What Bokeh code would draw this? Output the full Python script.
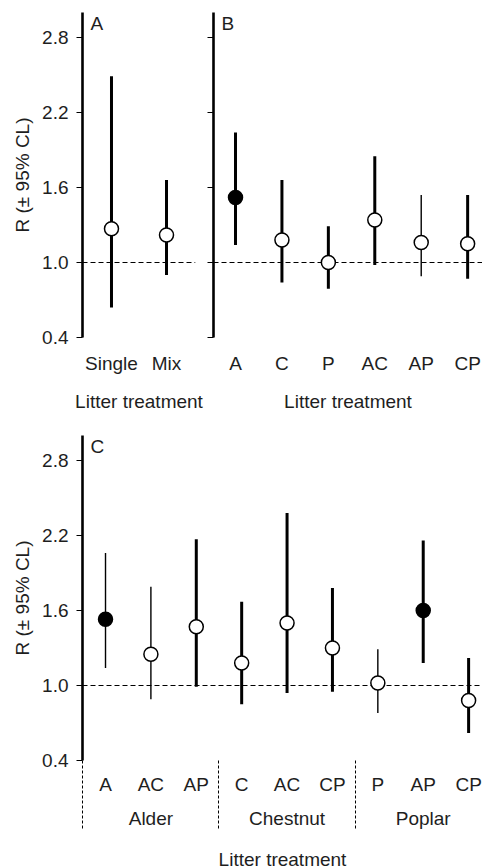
from bokeh.plotting import figure
from bokeh.models import (Range1d, FixedTicker, NumeralTickFormatter, Span, Label,
                          LinearAxis, CustomLabelingPolicy)
from bokeh.layouts import column, row
from bokeh.embed import file_html
from bokeh.resources import INLINE

# ---------------- data ----------------
y_ticks = [0.4, 1.0, 1.6, 2.2, 2.8]
y_label = "R (± 95% CL)"
x_label = "Litter treatment"
ref_value = 1.0

# Panel A
a_cats = ["Single", "Mix"]
a_mean = [1.27, 1.22]
a_lo = [0.64, 0.90]
a_hi = [2.49, 1.66]
a_sig = [False, False]

# Panel B
b_cats = ["A", "C", "P", "AC", "AP", "CP"]
b_mean = [1.52, 1.18, 1.00, 1.34, 1.16, 1.15]
b_lo = [1.14, 0.84, 0.79, 0.98, 0.89, 0.87]
b_hi = [2.04, 1.66, 1.29, 1.85, 1.54, 1.54]
b_sig = [True, False, False, False, False, False]

# Panel C
c_groups = ["Alder", "Alder", "Alder", "Chestnut", "Chestnut", "Chestnut", "Poplar", "Poplar", "Poplar"]
c_cats = ["A", "AC", "AP", "C", "AC", "CP", "P", "AP", "CP"]
c_mean = [1.53, 1.25, 1.47, 1.18, 1.50, 1.30, 1.02, 1.60, 0.88]
c_lo = [1.14, 0.89, 0.99, 0.85, 0.94, 0.95, 0.78, 1.18, 0.62]
c_hi = [2.06, 1.79, 2.17, 1.67, 2.38, 1.78, 1.29, 2.16, 1.22]
c_sig = [True, False, False, False, False, False, False, True, False]

# ---------------- styles ----------------
FONT = "Liberation Sans"
TXT = "#1e1e1e"
FS = "19px"
THICK, THIN = 3.0, 1.4
a_width = [THICK, THICK]
b_width = [THICK, THICK, THICK, THICK, THIN, THICK]
c_width = [THIN, THIN, THICK, THICK, THICK, THICK, THIN, THICK, THICK]


def make_panel(cats, mean, lo, hi, sig, widths, x_start, x_end, fw, ml, mr, mt, mb,
               letter, show_ylab, xlab=True):
    p = figure(frame_width=fw, frame_height=325,
               x_range=Range1d(x_start, x_end), y_range=Range1d(0.4, 3.0),
               output_backend="svg", toolbar_location=None,
               min_border_left=ml, min_border_right=mr,
               min_border_top=mt, min_border_bottom=mb)
    p.outline_line_color = None
    p.background_fill_color = "white"
    p.border_fill_color = "white"
    p.xgrid.visible = False
    p.ygrid.visible = False

    xs = list(range(len(cats)))
    span = Span(location=ref_value, dimension="width", line_color="black",
                line_width=1, line_dash="5 3", level="underlay")
    p.add_layout(span)

    p.segment(x0=xs, y0=lo, x1=xs, y1=hi, line_color="black", line_width=widths)
    fills = ["black" if s else "white" for s in sig]
    p.scatter(x=xs, y=mean, size=14, marker="circle", fill_color=fills,
              line_color="black", line_width=1.5)

    yax = p.yaxis[0]
    yax.ticker = FixedTicker(ticks=y_ticks, minor_ticks=[])
    yax.formatter = NumeralTickFormatter(format="0.0")
    yax.axis_line_width = 2.6
    yax.axis_line_color = "black"
    yax.major_tick_out = 6
    yax.major_tick_in = 0
    yax.major_tick_line_width = 1
    yax.minor_tick_out = 0
    yax.minor_tick_in = 0
    yax.major_label_text_font = FONT
    yax.major_label_text_color = TXT
    yax.major_label_text_font_size = FS
    if show_ylab:
        yax.major_label_standoff = 8
        yax.axis_label = y_label
        yax.axis_label_text_font = FONT
        yax.axis_label_text_font_size = FS
        yax.axis_label_text_font_style = "normal"
        yax.axis_label_text_color = TXT
        yax.axis_label_standoff = 6
    else:
        # tick marks only, no tick labels
        yax.major_label_overrides = {t: "" for t in y_ticks}
        yax.major_label_policy = CustomLabelingPolicy(
            code="for (const i of indices) indices.unset(i)")
        yax.major_label_standoff = 0

    xax = p.xaxis[0]
    xax.ticker = FixedTicker(ticks=xs, minor_ticks=[])
    xax.major_label_overrides = {i: c for i, c in enumerate(cats)}
    xax.axis_line_color = None
    xax.major_tick_line_color = None
    xax.major_tick_out = 0
    xax.major_tick_in = 0
    xax.minor_tick_out = 0
    xax.minor_tick_in = 0
    xax.major_label_text_font = FONT
    xax.major_label_text_font_size = FS
    xax.major_label_text_color = TXT
    xax.major_label_standoff = 15
    if xlab:
        xax.axis_label = x_label
        xax.axis_label_text_font = FONT
        xax.axis_label_text_font_size = FS
        xax.axis_label_text_font_style = "normal"
        xax.axis_label_text_color = TXT
        xax.axis_label_standoff = 14

    lab = Label(x=x_start, y=3.0, x_offset=8, y_offset=0, text=letter,
                text_baseline="top", text_align="left", text_font=FONT,
                text_font_size=FS, text_color=TXT)
    p.add_layout(lab)
    return p


pA = make_panel(a_cats, a_mean, a_lo, a_hi, a_sig, a_width, -0.527, 1.527,
                113, 82, 11, 12, 91, "A", True)
pB = make_panel(b_cats, b_mean, b_lo, b_hi, b_sig, b_width, -0.474, 5.32,
                269, 7, 0, 12, 91, "B", False)
pC = make_panel(c_cats, c_mean, c_lo, c_hi, c_sig, c_width, -0.507, 8.306,
                400, 82, 0, 7, 106, "C", True, xlab=False)

# group separators (as dashed minor ticks) and group labels for panel C
group_names = []
for g in c_groups:
    if g not in group_names:
        group_names.append(g)
group_idx = {g: [i for i, gg in enumerate(c_groups) if gg == g] for g in group_names}
group_centers = [sum(v) / len(v) for v in group_idx.values()]
separators = [min(v) - 0.5 for v in group_idx.values()]

SEP_LEN = 68
xc = pC.xaxis[0]
xc.ticker = FixedTicker(ticks=list(range(len(c_cats))), minor_ticks=separators)
xc.minor_tick_out = SEP_LEN
xc.minor_tick_in = 0
xc.minor_tick_line_color = "black"
xc.minor_tick_line_width = 1
xc.minor_tick_line_dash = "3 2"
xc.major_label_standoff = 13 - SEP_LEN

gax = LinearAxis(ticker=FixedTicker(ticks=group_centers, minor_ticks=[]))
gax.major_label_overrides = {c: g for c, g in zip(group_centers, group_names)}
gax.axis_line_color = None
gax.major_tick_line_color = None
gax.major_tick_out = 0
gax.major_tick_in = 0
gax.minor_tick_out = 0
gax.minor_tick_in = 0
gax.major_label_text_font = FONT
gax.major_label_text_font_size = FS
gax.major_label_text_color = TXT
gax.major_label_standoff = 10
gax.axis_label = x_label
gax.axis_label_text_font = FONT
gax.axis_label_text_font_size = FS
gax.axis_label_text_font_style = "normal"
gax.axis_label_text_color = TXT
gax.axis_label_standoff = 17
pC.add_layout(gax, "below")

layout = column(row(pA, pB), pC)
open("out.html", "w").write(file_html(layout, INLINE))
